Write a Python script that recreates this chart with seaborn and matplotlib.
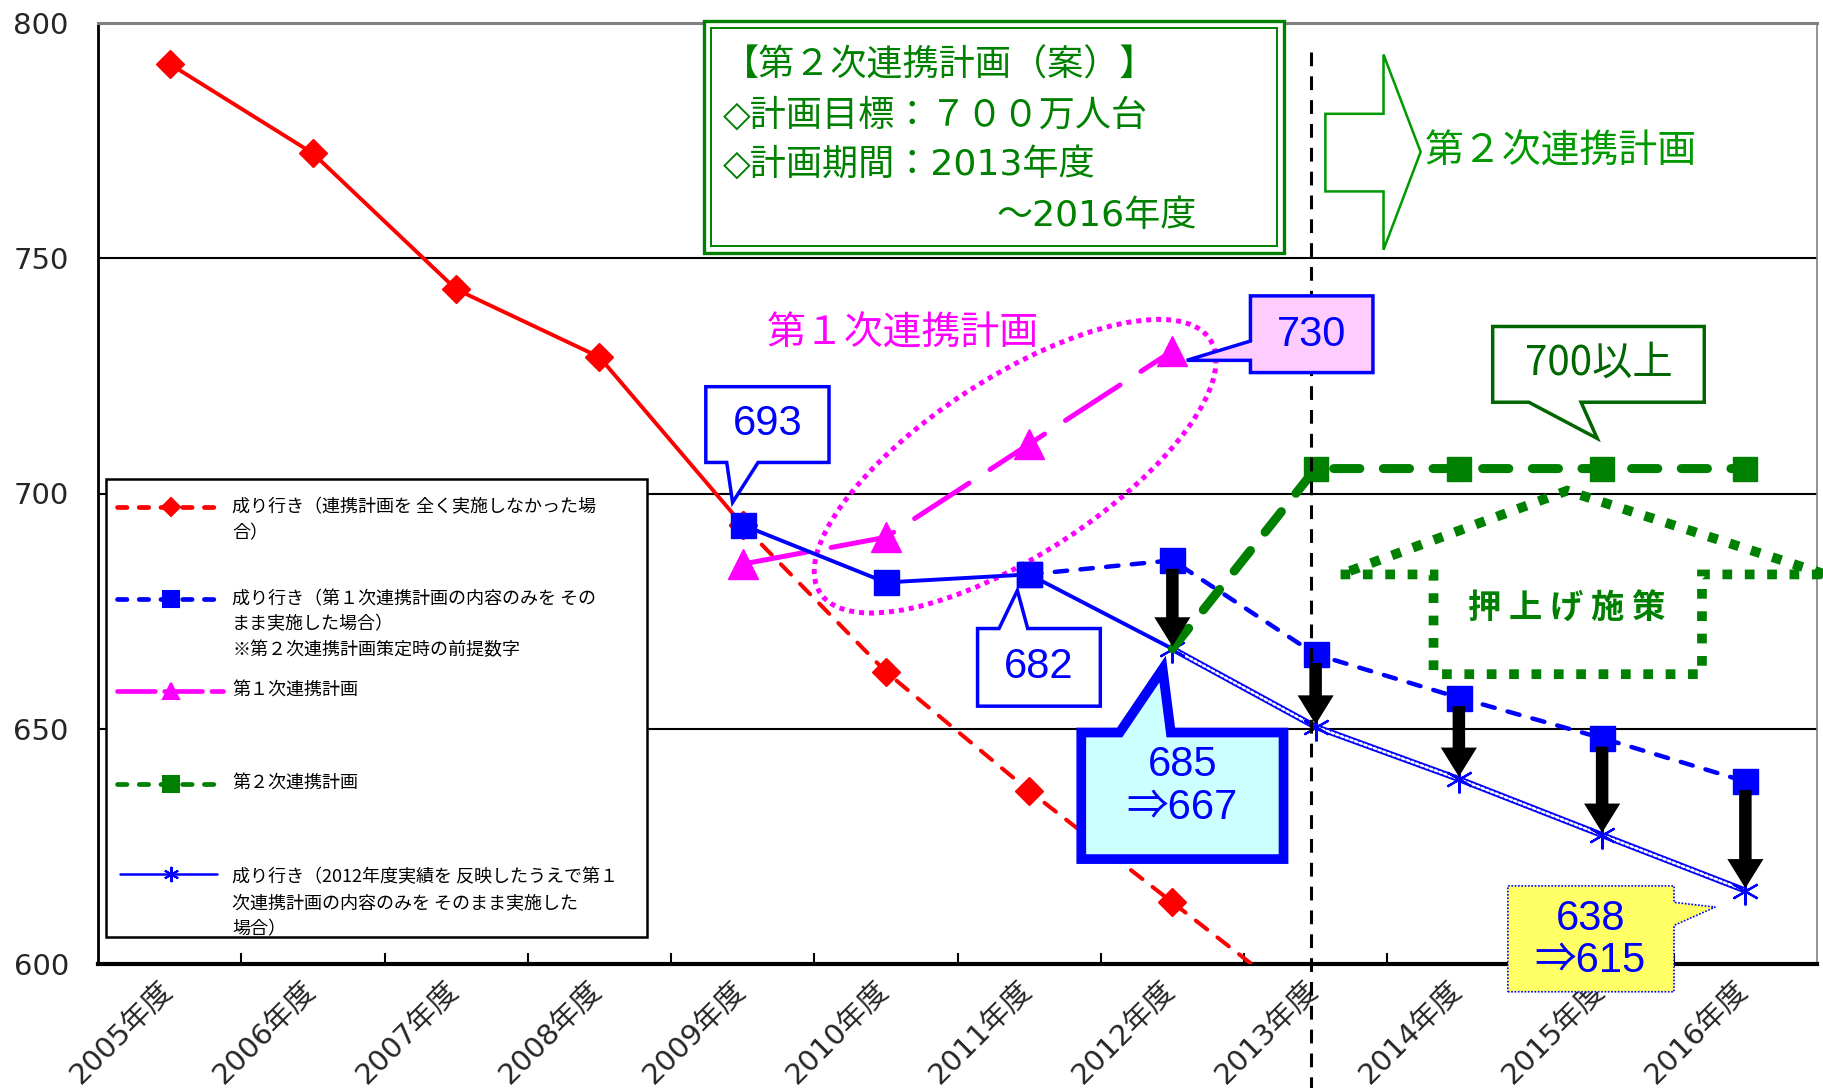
import numpy as np
import pandas as pd
import matplotlib
matplotlib.use("Agg")
import matplotlib.pyplot as plt
from matplotlib.patches import Polygon, Rectangle, Ellipse
from matplotlib.lines import Line2D
from matplotlib.transforms import ScaledTranslation
import seaborn as sns

# ---------------- data ----------------
years = ["2005年度", "2006年度", "2007年度", "2008年度", "2009年度", "2010年度",
         "2011年度", "2012年度", "2013年度", "2014年度", "2015年度", "2016年度"]
y_ticks = [600, 650, 700, 750, 800]

# 成り行き（連携計画を全く実施しなかった場合）
red_actual_years = years[0:5]
red_actual = [791.3, 772.3, 743.4, 729.0, 693.3]
red_proj_years = years[4:9]
red_proj = [693.3, 662.1, 636.8, 613.1, 589.4]

# 成り行き（第１次連携計画の内容のみをそのまま実施した場合）
blue_actual_years = years[4:7]
blue_actual = [693.3, 681.1, 682.8]
blue_plan_years = years[6:12]
blue_plan = [682.8, 685.8, 665.8, 656.6, 648.0, 638.8]

# 成り行き（2012年度実績を反映したうえで第１次連携計画の内容のみをそのまま実施した場合）
star_actual_years = years[6:8]
star_actual = [682.8, 667.0]
star_proj_years = years[7:12]
star_proj = [667.0, 650.4, 639.3, 627.4, 615.6]

# 第１次連携計画
plan1_years = years[4:8]
plan1 = [685.0, 690.7, 710.5, 730.3]

# 第２次連携計画
plan2_years = years[7:12]
plan2 = [667.0, 705.3, 705.3, 705.3, 705.3]

arrow_years = years[7:12]

legend_labels = [
    ["成り行き（連携計画を 全く実施しなかった場", "合）"],
    ["成り行き（第１次連携計画の内容のみを その", "まま実施した場合）", "※第２次連携計画策定時の前提数字"],
    ["第１次連携計画"],
    ["第２次連携計画"],
    ["成り行き（2012年度実績を 反映したうえで第１", "次連携計画の内容のみを そのまま実施した", "場合）"],
]
box_lines = ["【第２次連携計画（案）】", "◇計画目標：７００万人台", "◇計画期間：2013年度", "～2016年度"]

RED, BLUE, MAG, GREEN = "#FF0000", "#0000FF", "#FF00FF", "#008000"
JP = ["Noto Sans CJK JP", "DejaVu Sans"]
WIDE = ["DejaVu Sans", "Noto Sans CJK JP"]
NUM = ["Liberation Sans", "Noto Sans CJK JP", "DejaVu Sans"]

sns.set_theme(style="white")
plt.rcParams["font.family"] = NUM

fig = plt.figure(figsize=(18.23, 10.88), dpi=100)
ax = fig.add_axes([98 / 1823, 1 - 964 / 1088, 1719 / 1823, 941 / 1088])
ax.set_xlim(-0.5, 11.5)
ax.set_ylim(600, 800)


def pos(yrs):
    return [years.index(y) for y in yrs]


def draw(yrs, vals, color, dashes=None, **kw):
    df = pd.DataFrame({"x": pos(yrs), "v": vals})
    sns.lineplot(data=df, x="x", y="v", ax=ax, color=color, legend=False,
                 sort=False, errorbar=None, **kw)
    ln = ax.lines[-1]
    if dashes is not None:
        ln.set_dashes(dashes)
        ln.set_dash_capstyle("round")
    return ln


# red
draw(red_actual_years, red_actual, RED, lw=2.8, marker="D", markersize=14,
     markeredgecolor=RED, markeredgewidth=1, zorder=3)
draw(red_proj_years, red_proj, RED, dashes=(3.6, 3.2), lw=2.9, marker="D", markersize=14,
     markeredgecolor=RED, markeredgewidth=1, zorder=3)

# magenta plan 1
draw(plan1_years, plan1, MAG, dashes=(13, 5), lw=3.6, marker="^", markersize=21,
     markeredgecolor=MAG, markeredgewidth=1, zorder=4)

# blue
draw(blue_actual_years, blue_actual, BLUE, lw=2.8, marker="s", markersize=18,
     markeredgecolor=BLUE, markeredgewidth=1, zorder=5)
draw(blue_plan_years, blue_plan, BLUE, dashes=(2.8, 3.0), lw=3.2, marker="s", markersize=18,
     markeredgecolor=BLUE, markeredgewidth=1, zorder=5)

# star series
draw(star_actual_years, star_actual, BLUE, lw=2.8, zorder=5)
draw(star_proj_years, star_proj, BLUE, lw=4.4, zorder=5)
draw(star_proj_years, star_proj, "white", dashes=(1.0, 1.0), lw=1.8, zorder=5.1)
draw(star_proj_years, star_proj, BLUE, lw=0, marker=(6, 2, 0), markersize=20,
     markeredgecolor=BLUE, markeredgewidth=1.6, zorder=5.2)

# green plan 2
draw(plan2_years, plan2, GREEN, dashes=(2.9, 2.6), lw=6.5, marker="s", markersize=17,
     markeredgecolor=GREEN, markeredgewidth=1, markevery=[1, 2, 3, 4], zorder=6)

# vertical divider at 2013
x13 = years.index("2013年度")
ax.plot([x13 - 0.03, x13 - 0.03], [793.8, 572], color="black", lw=2.2,
        linestyle=(0, (4.5, 3.3)), clip_on=False, zorder=7)

# black arrows
for yr in arrow_years:
    xa = years.index(yr)
    y0 = blue_plan[blue_plan_years.index(yr)] - 1.8
    y1 = star_proj[star_proj_years.index(yr)] + 0.5
    ax.annotate("", xy=(xa, y1), xytext=(xa, y0),
                arrowprops=dict(arrowstyle="simple,head_length=0.42,head_width=0.52,tail_width=0.18",
                                mutation_scale=50, fc="black", ec="black", lw=0,
                                shrinkA=0, shrinkB=0), zorder=8)

# ---------- axes styling ----------
ax.set_yticks(y_ticks)
ax.set_yticklabels([str(v) for v in y_ticks], fontsize=21, family=WIDE)
ax.tick_params(axis="y", length=0, pad=21)
ax.set_xticks(range(len(years)))
ax.set_xticklabels(years, rotation=45, ha="right", va="top", rotation_mode="anchor",
                   fontsize=21, family=WIDE)
ax.tick_params(axis="x", which="major", length=0, pad=9)
ax.set_xticks(np.arange(0.5, len(years) - 1, 1), minor=True)
ax.tick_params(axis="x", which="minor", direction="in", length=8, width=1.5,
               color="black", bottom=True)
ax.set_xlabel("")
ax.set_ylabel("")
ax.grid(axis="y", color="black", lw=1.5)
ax.grid(axis="x", visible=False)
ax.set_axisbelow(True)
ax.spines["bottom"].set_color("black"); ax.spines["bottom"].set_linewidth(3)
ax.spines["left"].set_color("black"); ax.spines["left"].set_linewidth(2)
ax.spines["top"].set_color("#808080"); ax.spines["top"].set_linewidth(2.2)
ax.spines["right"].set_color("#808080"); ax.spines["right"].set_linewidth(1.2)


# ---------- callouts ----------
def callout(x0, x1, y0, y1, side, b0, b1, tip, fc, ec, lw, ls="-", z=10):
    if side == "bottom":
        pts = [(x0, y0), (b0, y0), tip, (b1, y0), (x1, y0), (x1, y1), (x0, y1)]
    elif side == "top":
        pts = [(x0, y0), (x1, y0), (x1, y1), (b1, y1), tip, (b0, y1), (x0, y1)]
    elif side == "left":
        pts = [(x0, y0), (x1, y0), (x1, y1), (x0, y1), (x0, b1), tip, (x0, b0)]
    else:
        pts = [(x0, y0), (x1, y0), (x1, b0), tip, (x1, b1), (x1, y1), (x0, y1)]
    ax.add_patch(Polygon(pts, closed=True, fc=fc, ec=ec, lw=lw, linestyle=ls,
                         joinstyle="miter", clip_on=False, zorder=z))


callout(3.743, 4.603, 706.6, 722.7, "bottom", 3.889, 4.108, (3.93, 698.1), "white", BLUE, 2.5)
ax.text(4.173, 714.7, "693", color=BLUE, fontsize=30, ha="center", va="center", zorder=11)

callout(7.545, 8.40, 725.7, 742.0, "left", 728.3, 732.4, (7.10, 728.3), "#FFCCFF", BLUE, 2.5)
ax.text(7.970, 733.7, "730", color=BLUE, fontsize=30, ha="center", va="center", zorder=11)

callout(5.64, 6.497, 654.8, 671.3, "top", 5.79, 5.99, (5.918, 679.4), "white", BLUE, 2.5)
ax.text(6.064, 663.2, "682", color=BLUE, fontsize=30, ha="center", va="center", zorder=11)

callout(6.364, 7.776, 622.3, 649.2, "top", 6.632, 6.989, (6.932, 662.7), "#CCFFFF", BLUE, 7)
ax.text(7.07, 642.3, "685", color=BLUE, fontsize=30, ha="center", va="center", zorder=11)
ax.text(7.07, 633.1, "⇒667", color=BLUE, fontsize=30, ha="center", va="center", zorder=11)

callout(9.342, 10.502, 594.1, 616.6, "right", 608.2, 613.1, (10.79, 612.1), "#FFFF66", BLUE, 1.2,
        ls=(0, (1, 1)), z=12)
ax.text(9.918, 609.6, "638", color=BLUE, fontsize=30, ha="center", va="center", zorder=13)
ax.text(9.918, 600.7, "⇒615", color=BLUE, fontsize=30, ha="center", va="center", zorder=13,
        clip_on=False)

callout(9.236, 10.713, 719.4, 735.5, "bottom", 9.488, 9.853, (9.966, 711.7), "white", "#006600", 2.5)
ax.text(9.975, 727.6, "700以上", color="#006600", fontsize=29, ha="center", va="center",
        family=JP, zorder=11)

# ---------- top box ----------
ax.add_patch(Rectangle((3.727, 751.05), 4.049, 49.45, fc="white", ec=GREEN, lw=2.4,
                       clip_on=False, zorder=10))
ax.add_patch(Rectangle((3.776, 752.5), 3.951, 46.5, fc="none", ec=GREEN, lw=1.4,
                       clip_on=False, zorder=10))
for ty, txt in zip([791.1, 780.5, 769.8], box_lines[:3]):
    ax.text(3.86, ty, txt, color=GREEN, fontsize=26, ha="left", va="center",
            family=WIDE, zorder=11)
ax.text(7.172, 758.9, box_lines[3], color=GREEN, fontsize=26, ha="right", va="center",
        family=WIDE, zorder=11)

# hollow arrow
arrow_pts = [(8.068, 780.7), (8.474, 780.7), (8.474, 793.3), (8.733, 772.6),
             (8.474, 751.8), (8.474, 764.2), (8.068, 764.2)]
ax.add_patch(Polygon(arrow_pts, closed=True, fc="white", ec="#009900", lw=1.8,
                     clip_on=False, zorder=9))
ax.text(8.76, 772.6, "第２次連携計画", color="#009900", fontsize=28, ha="left", va="center",
        family=JP, zorder=11)

# 第１次連携計画 label and dotted ellipse
ax.text(5.115, 734.0, "第１次連携計画", color=MAG, fontsize=28, ha="center", va="center",
        family=JP, zorder=11)
ell_tr = fig.dpi_scale_trans + ScaledTranslation(5.902, 705.8, ax.transData)
ax.add_patch(Ellipse((0, 0), 4.65, 1.77, angle=33, transform=ell_tr, fill=False,
                     ec=MAG, lw=3.6, linestyle=(0, (1, 1)), zorder=4.5))

# 押上げ施策 house
house = [(8.174, 682.8), (8.823, 682.8), (8.823, 661.6), (10.697, 661.6),
         (10.697, 682.8), (11.56, 682.8), (9.755, 700.6)]
ax.add_patch(Polygon(house, closed=True, fill=False, ec=GREEN, lw=7,
                     linestyle=(0, (1.0, 1.3)), clip_on=False, zorder=6.5))
ax.text(9.755, 675.4, "押 上 げ 施 策", color=GREEN, fontsize=24, fontweight="bold",
        ha="center", va="center", family=JP, zorder=11)

# ---------- legend (drawn manually) ----------
T = ax.transAxes
ax.add_patch(Rectangle((0.0047, 0.0284), 0.3144, 0.4871, transform=T, fc="white",
                       ec="black", lw=1.8, zorder=20))
hx0, hx1, hxm = 0.0112, 0.0728, 0.0425
entry_y = [0.4858, 0.3881, 0.2905, 0.1916, 0.0952]
line_y = [[0.4858, 0.4574], [0.3881, 0.3609, 0.3337], [0.2905], [0.1916],
          [0.0927, 0.0643, 0.0371]]
handles = [
    dict(color=RED, ls=(0, (2.0, 2.6)), lw=3.4, marker="D", ms=9),
    dict(color=BLUE, ls=(0, (2.0, 2.6)), lw=3.4, marker="s", ms=11),
    dict(color=MAG, ls=(0, (8, 2)), lw=3.4, marker="^", ms=12),
    dict(color=GREEN, ls=(0, (2.0, 2.6)), lw=3.4, marker="s", ms=11),
    dict(color=BLUE, ls="-", lw=1.8, marker=(6, 2, 0), ms=11),
]
for i, h in enumerate(handles):
    yy = entry_y[i]
    x0, x1 = (hx0, hx1) if i < 4 else (0.0128, 0.0690)
    ax.add_line(Line2D([x0, x1], [yy, yy], transform=T, color=h["color"], lw=h["lw"],
                       linestyle=h["ls"], dash_capstyle="round", zorder=21))
    ax.add_line(Line2D([hxm], [yy], transform=T, color=h["color"], marker=h["marker"],
                       markersize=h["ms"], mec=h["color"], mew=1.5, lw=0, zorder=22))
    for ly, txt in zip(line_y[i], legend_labels[i]):
        ax.text(0.0780, ly, txt, transform=T, fontsize=13, ha="left", va="center",
                family=JP, color="black", zorder=22)

# shift x tick labels slightly left, as in the reference
shift = ScaledTranslation(-0.11, 0, fig.dpi_scale_trans)
for tick in ax.xaxis.get_major_ticks():
    tick.label1.set_transform(tick.label1.get_transform() + shift)

fig.savefig("out.png", dpi=100)
